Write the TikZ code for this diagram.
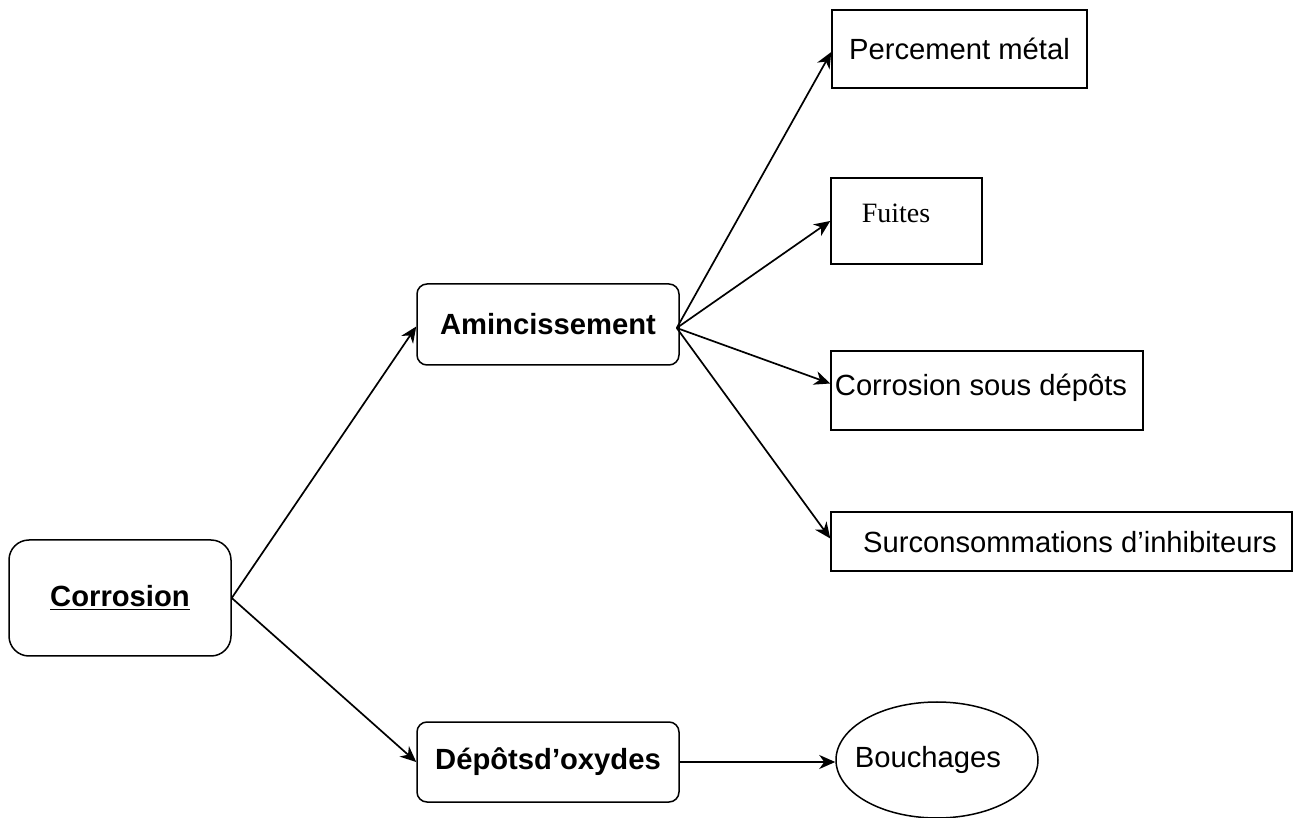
\documentclass[tikz,border=0pt]{standalone}
\usepackage{fontspec}
\setmainfont{Liberation Sans}
\newfontfamily\timesf{Liberation Serif}
\usetikzlibrary{arrows.meta,calc,shapes.geometric}
\begin{document}
\begin{tikzpicture}[x=0.5pt,y=-0.5pt,
  font=\fontsize{14.6}{17}\selectfont,
  rbox/.style={draw=black,line width=0.75pt,rounded corners=#1,inner sep=0pt},
  sbox/.style={draw=black,line width=0.75pt,inner sep=0pt},
  plain/.style={inner sep=0pt},
  conn/.style={draw=black,line width=0.85pt,-{Stealth[length=8pt,width=7pt,inset=2.5pt]}}]
\useasboundingbox (0,0) rectangle (1298,818);
% left and middle boxes
\node[rbox=10pt,minimum width=111pt,minimum height=58pt] (cor) at (120,598)
  {\bfseries\underline{Corrosion}};
\node[rbox=5pt,minimum width=131pt,minimum height=40.5pt] (ami) at (548,324.5)
  {\bfseries Amincissement};
\node[rbox=5pt,minimum width=131pt,minimum height=40pt] (dep) at (548,762)
  {\bfseries Dépôtsd’oxydes};
% right boxes
\node[sbox,minimum width=127.5pt,minimum height=39pt] (per) at (959.5,49)
  {Percement métal};
\node[sbox,minimum width=75.5pt,minimum height=43pt] (fui) at (906.5,221) {};
\node[plain,font=\timesf\fontsize{14}{16}\selectfont] (fuit) at (896,213) {Fuites};
\node[sbox,minimum width=156pt,minimum height=39.5pt] (csd) at (987,390.5) {};
\node[plain] (csdt) at (981,388) {Corrosion sous dépôts};
\node[sbox,minimum width=230.5pt,minimum height=29.5pt] (sur) at (1061.5,541.5) {};
\node[plain] (surt) at (1070,542) {Surconsommations d’inhibiteurs};
\node[draw=black,line width=0.75pt,ellipse,inner sep=0pt,minimum width=101pt,minimum height=58pt] (bou) at (937,760) {};
\node[plain] (bout) at (928,760) {Bouchages};
% connector hubs
\coordinate (hub) at ($(ami.east)+(-3,3.5)$);
\coordinate (csdin) at ($(csd.west)+(0,-7)$);
\coordinate (surin) at ($(sur.west)+(0,-3)$);
% connectors
\draw[conn] (cor.east) -- ($(ami.west)+(0,2)$);
\draw[conn] (cor.east) -- (dep.west);
\draw[conn] (hub) -- ($(per.west)+(0,3)$);
\draw[conn] (hub) -- (fui.west);
\draw[conn] (hub) -- (csdin);
\draw[conn] (hub) -- (surin);
\draw[conn] (dep.east) -- (dep.east -| bou.west);
\end{tikzpicture}
\end{document}
